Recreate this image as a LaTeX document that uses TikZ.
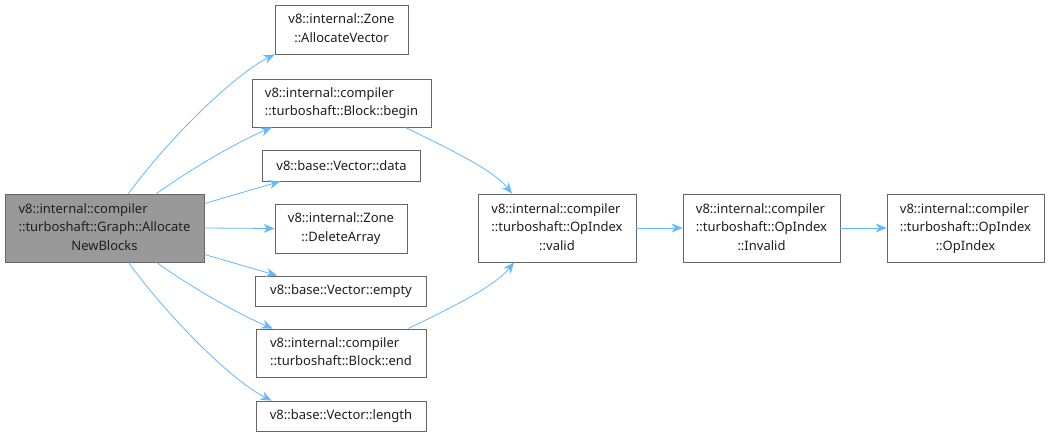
\documentclass[tikz,border=0pt]{standalone}
\usepackage{fontspec}
\setmainfont{Noto Sans}
\usetikzlibrary{arrows.meta}
\definecolor{edgec}{HTML}{63B8FF}
\definecolor{boxc}{HTML}{666666}
\newcommand{\lbltwo}[2]{\begin{tabular}{@{}l@{}}#1\\\multicolumn{1}{@{}c@{}}{#2}\end{tabular}}
\newcommand{\lblthree}[3]{\begin{tabular}{@{}l@{}}#1\\#2\\\multicolumn{1}{@{}c@{}}{#3}\end{tabular}}
\tikzset{
  fn/.style={draw=boxc, line width=0.9pt, fill=white, inner sep=0pt, align=center,
    font=\fontsize{13}{18.5}\selectfont, text=black!88},
  mainfn/.style={fn, fill=black!40},
  call/.style={draw=edgec, line width=0.8pt, -{Stealth[length=11pt,width=9pt]}},
}
\begin{document}
\begin{tikzpicture}[x=1pt,y=-1pt]
\useasboundingbox (0,0) rectangle (1049,437);
\node[mainfn, minimum width=199pt, minimum height=68pt] (main) at (104.5,228) {\lblthree{v8::internal::compiler}{::turboshaft::Graph::Allocate}{NewBlocks}};
\node[fn, minimum width=133pt, minimum height=49pt] (av) at (341.5,29.5) {\lbltwo{v8::internal::Zone}{::AllocateVector}};
\node[fn, minimum width=179pt, minimum height=48pt] (begin) at (341.5,103) {\lbltwo{v8::internal::compiler}{::turboshaft::Block::begin}};
\node[fn, minimum width=158pt, minimum height=31pt] (data) at (341.5,165.5) {v8::base::Vector::data};
\node[fn, minimum width=132pt, minimum height=49pt] (del) at (341,228.5) {\lbltwo{v8::internal::Zone}{::DeleteArray}};
\node[fn, minimum width=171pt, minimum height=30pt] (empty) at (341,291) {v8::base::Vector::empty};
\node[fn, minimum width=170pt, minimum height=48pt] (endn) at (341,353) {\lbltwo{v8::internal::compiler}{::turboshaft::Block::end}};
\node[fn, minimum width=170pt, minimum height=30pt] (len) at (341,416) {v8::base::Vector::length};
\node[fn, minimum width=158pt, minimum height=68pt] (valid) at (557,228) {\lblthree{v8::internal::compiler}{::turboshaft::OpIndex}{::valid}};
\node[fn, minimum width=157pt, minimum height=68pt] (inv) at (761.5,228) {\lblthree{v8::internal::compiler}{::turboshaft::OpIndex}{::Invalid}};
\node[fn, minimum width=157pt, minimum height=68pt] (opi) at (965.5,228) {\lblthree{v8::internal::compiler}{::turboshaft::OpIndex}{::OpIndex}};
\draw[call] ([xshift=24pt]main.north) .. controls +(40,-55) and +(-40,20) .. (av.south west);
\draw[call] ([xshift=52pt]main.north) .. controls +(35,-25) and +(-35,15) .. ([xshift=20pt]begin.south west);
\draw[call] ([yshift=-10pt]main.north east) -- ([xshift=18pt]data.south west);
\draw[call] (main.east) -- (del.west);
\draw[call] ([yshift=8pt]main.south east) -- ([xshift=22pt]empty.north west);
\draw[call] ([xshift=52pt]main.south) .. controls +(35,25) and +(-35,-15) .. ([xshift=17pt]endn.north west);
\draw[call] ([xshift=24pt]main.south) .. controls +(40,55) and +(-40,-20) .. ([xshift=16pt]len.north west);
\draw[call] ([xshift=-26pt]begin.south east) .. controls +(40,20) and +(-20,-25) .. ([xshift=-45pt]valid.north);
\draw[call] ([xshift=-18pt]endn.north east) .. controls +(40,-20) and +(-20,25) .. ([xshift=-43pt]valid.south);
\draw[call] (valid.east) -- (inv.west);
\draw[call] (inv.east) -- (opi.west);
\end{tikzpicture}
\end{document}
